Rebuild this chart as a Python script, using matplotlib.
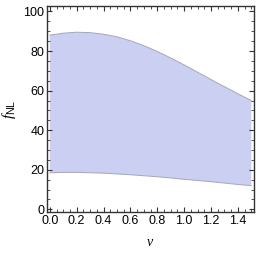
import numpy as np
import matplotlib
matplotlib.use("Agg")
import matplotlib.pyplot as plt
from matplotlib.ticker import MultipleLocator

nu = [0.0, 0.1, 0.2, 0.3, 0.4, 0.5, 0.6, 0.7, 0.8, 0.9, 1.0, 1.1, 1.2, 1.3, 1.4, 1.5]
f_upper = [88.0, 89.0, 89.5, 89.3, 88.5, 87.2, 85.2, 82.7, 79.8, 76.5, 73.0, 69.3, 65.6, 62.0, 58.4, 55.0]
f_lower = [18.5, 18.7, 18.7, 18.5, 18.3, 17.9, 17.5, 17.0, 16.5, 15.9, 15.2, 14.6, 14.0, 13.3, 12.6, 12.0]
xticks = [0.0, 0.2, 0.4, 0.6, 0.8, 1.0, 1.2, 1.4]
yticks = [0, 20, 40, 60, 80, 100]

plt.rcParams['font.family'] = ['Liberation Sans', 'DejaVu Sans']
plt.rcParams['mathtext.fontset'] = 'custom'
plt.rcParams['mathtext.rm'] = 'Liberation Serif'
plt.rcParams['mathtext.it'] = 'Liberation Serif:italic'
plt.rcParams['mathtext.sf'] = 'Liberation Sans'

fig = plt.figure(figsize=(2.56, 2.56), dpi=100)
ax = fig.add_axes([0.184, 0.172, 0.808, 0.805])

ax.fill_between(nu, f_lower, f_upper, facecolor='#cbd0f3', edgecolor='none')
ax.plot(nu, f_upper, color='#a4a7bc', lw=0.7)
ax.plot(nu, f_lower, color='#a4a7bc', lw=0.7)

ax.set_xlim(-0.02, 1.52)
ax.set_ylim(-1.3, 102.8)
ax.set_xticks(xticks)
ax.set_xticklabels([f"{v:.1f}" for v in xticks])
ax.set_yticks(yticks)
ax.set_yticklabels([str(v) for v in yticks])
ax.xaxis.set_minor_locator(MultipleLocator(0.05))
ax.yaxis.set_minor_locator(MultipleLocator(5))
ax.tick_params(which='both', direction='in', top=True, right=True, color='#333333', labelsize=9, pad=2)
ax.tick_params(which='major', length=3.5, width=0.8)
ax.tick_params(which='minor', length=2, width=0.6)
for s in ax.spines.values():
    s.set_color('#333333')
    s.set_linewidth(1.0)

ax.set_xlabel(r'$\nu$', fontsize=10, labelpad=6)
ax.set_ylabel(r'$f_{\mathsf{NL}}$', fontsize=11, labelpad=4)

fig.savefig('out.png', dpi=100)
